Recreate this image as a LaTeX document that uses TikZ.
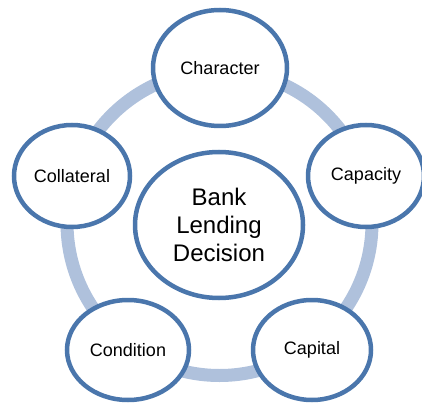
\documentclass[tikz,border=0pt]{standalone}
\usepackage{fontspec}
\setmainfont{Liberation Sans}
\usetikzlibrary{shapes.geometric}

\definecolor{rimblue}{RGB}{74,118,172}
\definecolor{ringblue}{RGB}{175,193,220}

\begin{document}
\begin{tikzpicture}[x=1pt, y=-1pt,
    factor/.style={ellipse, draw=rimblue, line width=4.5pt, fill=white, inner sep=0pt,
      font=\fontsize{18}{22}\selectfont},
    ring/.style={draw=ringblue, line width=13pt}]
    \useasboundingbox (0,0) rectangle (422,403);

    % ring behind the five factors
    \coordinate (O) at (219.5,223);
    \draw[ring] (O) circle (152.5pt);

    \node[factor, minimum width=168pt, minimum height=146pt,
      font=\fontsize{24}{28}\selectfont, align=center] (D) at (219,225) {Bank\\Lending\\Decision};

    \node[factor, minimum width=134pt, minimum height=116pt] (CH) at (220,68) {Character};
    \node[factor, minimum width=116pt, minimum height=102pt] (CP) at (366,176) {Capacity};
    \node[factor, minimum width=118pt, minimum height=100pt] (CA) at (312,350) {Capital};
    \node[factor, minimum width=122pt, minimum height=100pt] (CN) at (128,350) {Condition};
    \node[factor, minimum width=116pt, minimum height=102pt] (CL) at (72,176) {Collateral};
\end{tikzpicture}
\end{document}
